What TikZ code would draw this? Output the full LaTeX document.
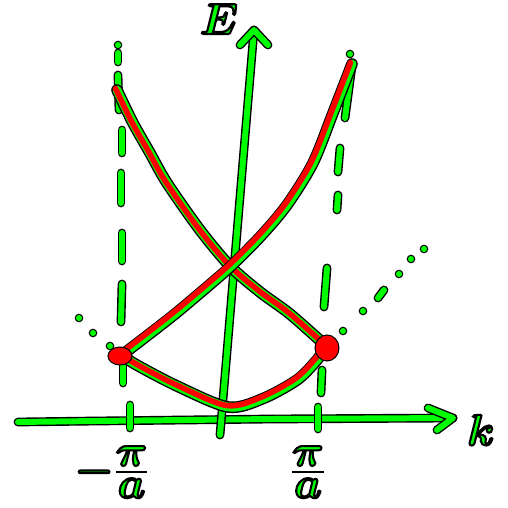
\documentclass[tikz,border=0pt]{standalone}
\usepackage{amsmath}
\usetikzlibrary{calc}
\definecolor{greenpen}{RGB}{0,255,0}
\definecolor{redpen}{RGB}{255,0,0}
% green letters with a thin black rim
\newcommand{\penlabel}[1]{\special{pdf:literal direct 0 0 0 RG 1.2 w 2 Tr}#1}
\newcommand{\piovera}{\tfrac{\displaystyle\boldsymbol{\pi}}{\displaystyle\boldsymbol{a}}}
\tikzset{
  pen/.style={draw=black, line width=5pt, line cap=round, line join=round,
    postaction={draw=greenpen, line width=3.4pt}},
  band/.style={draw=black, line width=6.6pt, line cap=round, line join=round,
    postaction={draw=greenpen, line width=5pt},
    postaction={draw=redpen, line width=3.2pt, transform canvas={shift={(-0.03,0.03)}}}},
  inkdot/.style={draw=black, fill=greenpen, line width=0.6pt},
  blob/.style={draw=black, fill=redpen, line width=0.6pt},
  penfont/.style={text=greenpen, inner sep=1pt},
}

\begin{document}
\begin{tikzpicture}
    \useasboundingbox (-4.44,-1.76) rectangle (5.72,8.4);
    % zone boundaries (dashed by hand)
    \foreach \xa/\ya/\xb/\yb in {-2.08/7.34/-2.08/7.16, -2.08/6.9/-2.06/6.2,
        -2.0/5.8/-2.0/5.34, -2.02/4.94/-2.02/4.34, -2.0/3.74/-2.0/3.18,
        -2.0/2.72/-2.02/1.96, -1.98/1.08/-1.98/0.74}
      \draw[pen] (\xa,\ya) -- (\xb,\yb);
    \foreach \xa/\ya/\xb/\yb in {2.6/7.08/2.46/6.04, 2.36/5.44/2.32/4.96,
        2.32/4.5/2.3/4.2, 2.1/3.04/2.04/2.26, 2.0/1.0/1.98/0.54,
        3.12/2.44/3.24/2.6}
      \draw[pen] (\xa,\ya) -- (\xb,\yb);
    % dots
    \foreach \x/\y in {-2.08/7.5, 2.56/7.32, -2.86/2.04, -2.58/1.74, -2.24/1.48,
        2.42/1.78, 2.82/2.18, 3.54/2.92, 3.78/3.22, 4.04/3.42}
      \filldraw[inkdot] (\x,\y) circle (0.075);
    % axes
    \coordinate (kstart) at (-4.08,-0.04);
    \coordinate (kend) at (4.62,0.04);
    \coordinate (Estart) at (-0.04,-0.3);
    \coordinate (Eend) at (0.64,7.8);
    \draw[pen] (kstart) -- (-2.5,-0.02) -- (1,0.02) -- (kend);
    \draw[pen] (4.12,0.24) -- (kend) -- (4.3,-0.2);
    \draw[pen] (Estart) -- (0.12,1.6) -- (Eend);
    \draw[pen] (0.36,7.5) -- (Eend) -- (0.92,7.5);
    % ticks
    \draw[pen] (-1.84,0.3) -- (-1.84,-0.16);
    \draw[pen] (1.92,0.26) -- (1.92,-0.18);
    % bands
    \draw[band] plot[smooth, tension=0.5] coordinates {(-2,1.3) (-1.74,1.12) (-0.9,0.68)
        (0.12,0.26) (0.8,0.42) (1.5,0.8) (1.9,1.2) (2.06,1.44)};
    \draw[band] plot[smooth, tension=0.5] coordinates {(-2.1,6.6) (-1.78,5.94) (-1.44,5.34)
        (-1.1,4.74) (-0.44,3.8) (0.16,3.08) (0.76,2.56) (1.36,2.12) (2.06,1.5)};
    \draw[band] plot[smooth, tension=0.5] coordinates {(-2,1.3) (-1.04,2.04) (-0.44,2.54)
        (0.16,3.06) (0.76,3.66) (1.3,4.3) (1.82,5.14) (2.22,6.14) (2.6,7.12)};
    % gaps
    \filldraw[blob] (-2.04,1.28) ellipse (0.24 and 0.18);
    \filldraw[blob] (2.1,1.44) ellipse (0.24 and 0.26);
    % labels
    \node[penfont, font=\fontsize{26}{30}\selectfont] (Elabel) at (-0.06,8.02) {\penlabel{$\boldsymbol{E}$}};
    \node[penfont, font=\fontsize{36}{40}\selectfont] (klabel) at (5.18,-0.2) {\penlabel{$\boldsymbol{k}$}};
    \node[penfont, font=\fontsize{30}{34}\selectfont] (mpilabel) at (-2.2,-1.04) {\penlabel{$\boldsymbol{-}\piovera$}};
    \node[penfont, font=\fontsize{30}{34}\selectfont] (pilabel) at (1.72,-1.04) {\penlabel{$\piovera$}};
\end{tikzpicture}
\end{document}
